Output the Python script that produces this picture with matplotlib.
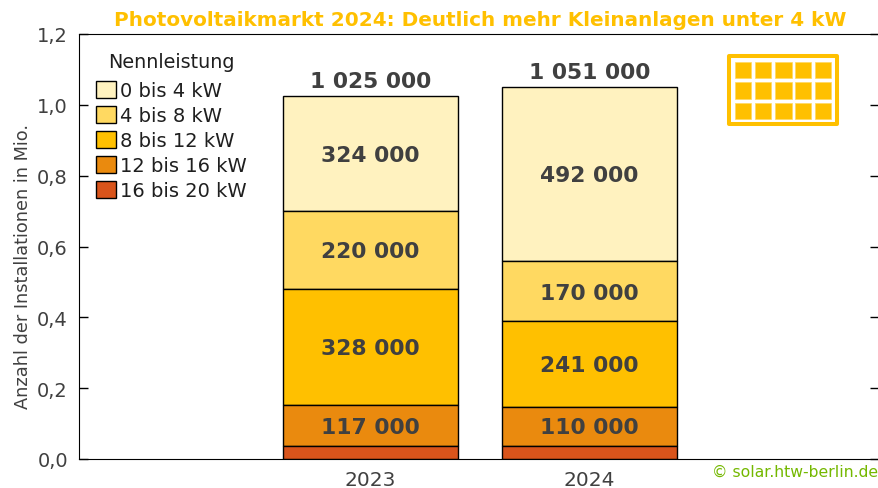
import matplotlib
matplotlib.use("Agg")
import matplotlib.pyplot as plt
from matplotlib.patches import Rectangle

years = ["2023", "2024"]
classes = ["0 bis 4 kW", "4 bis 8 kW", "8 bis 12 kW", "12 bis 16 kW", "16 bis 20 kW"]
colors = ["#FFF2BF", "#FFD961", "#FFC000", "#EA8A0E", "#D9541B"]
values_2023 = [324000, 220000, 328000, 117000, 36000]
values_2024 = [492000, 170000, 241000, 110000, 38000]
totals = [1025000, 1051000]
yticks = [0.0, 0.2, 0.4, 0.6, 0.8, 1.0, 1.2]

W, H = 879, 489
TXT = "#404040"


def fmt(v):
    return f"{v:,}".replace(",", " ")


def to_fig(x, y):
    return x / W, 1 - y / H


fig = plt.figure(figsize=(W / 100, H / 100), dpi=100)
ax = fig.add_axes([79 / W, 1 - 460 / H, 800 / W, 425 / H])

for i, vals in enumerate([values_2023, values_2024]):
    bottom = sum(vals)
    for j, v in enumerate(vals):
        bottom -= v
        ax.bar(i, v / 1e6, 0.8, bottom=bottom / 1e6, color=colors[j],
               edgecolor="black", linewidth=1)
        if j < 4:
            ax.annotate(fmt(v), (i, (bottom + v / 2) / 1e6), xytext=(0, -1),
                        textcoords="offset points", ha="center", va="center",
                        fontsize=15.7, fontweight="bold", color=TXT)
    ax.text(i, sum(vals) / 1e6 + 0.014, fmt(totals[i]), ha="center", va="bottom",
            fontsize=15.7, fontweight="bold", color=TXT)

ax.set_xlim(-1.33, 2.32)
ax.set_ylim(0, 1.2)
ax.set_xticks([0, 1], years)
ax.set_yticks(yticks, [f"{t:.1f}".replace(".", ",") for t in yticks])
ax.tick_params(axis="x", length=0, labelsize=14.5, labelcolor=TXT, pad=8)
ax.tick_params(axis="y", direction="in", length=6.5, width=1, labelsize=14,
               labelcolor=TXT, pad=8, right=True)
ax.spines["right"].set_visible(False)
fig.text(23 / W, 1 - 267 / H, "Anzahl der Installationen in Mio.", rotation=90,
         ha="center", va="center", fontsize=12.8, color=TXT)

# legend title is placed by hand, the gap to the rows is wider than labelspacing
handles = [Rectangle((0, 0), 1, 1, facecolor=c, edgecolor="black", linewidth=1) for c in colors]
leg = ax.legend(handles, classes, loc="upper left", bbox_to_anchor=(0.0045, 0.9215),
                frameon=False, fontsize=14, handlelength=1.0, handleheight=1.0,
                handletextpad=0.2, labelspacing=0.29, borderpad=0.2)
for t in leg.get_texts():
    t.set_color("#1f1f1f")
fig.text(171 / W, 1 - 62 / H, "Nennleistung", ha="center", va="center",
         fontsize=13.8, color="#1f1f1f")

fig.text(480 / W, 1 - 20 / H, "Photovoltaikmarkt 2024: Deutlich mehr Kleinanlagen unter 4 kW",
         ha="center", va="center", fontsize=14.4, fontweight="bold", color="#FFC000")
fig.text(878 / W, 1 - 472 / H, "© solar.htw-berlin.de", ha="right", va="center",
         fontsize=11.25, color="#74B800")

# solar panel icon, in pixel positions
x0, y0 = to_fig(729, 125)
fig.add_artist(Rectangle((x0, y0), 108 / W, 68 / H, transform=fig.transFigure,
                         facecolor="white", edgecolor="#FFC000", linewidth=2.9,
                         joinstyle="round"))
for row in range(3):
    for col in range(5):
        cx, cy = to_fig(735 + col * 20, 79 + row * 20.5)
        fig.add_artist(Rectangle((cx, cy), 16.5 / W, 16.5 / H, transform=fig.transFigure,
                                 facecolor="#FFC000", edgecolor="#FFD961", linewidth=0.5))

fig.savefig("out.png", dpi=100)
